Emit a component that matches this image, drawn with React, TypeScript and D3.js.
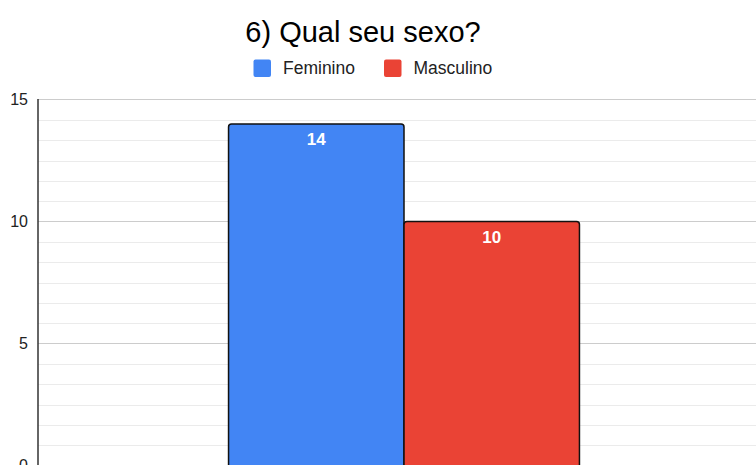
import React from "react";
import * as d3 from "d3";

const title = "6) Qual seu sexo?";
const categories = [""];
const seriesNames = ["Feminino", "Masculino"];
const seriesColors = ["#4285F4", "#EA4335"];
const values = [14, 10];
const yTicks = [0, 5, 10, 15];

const W = 756;
const H = 465;

function roundedTop(x: number, y: number, w: number, h: number, r: number) {
  return `M${x},${y + h} L${x},${y + r} Q${x},${y} ${x + r},${y} L${x + w - r},${y} Q${x + w},${y} ${x + w},${y + r} L${x + w},${y + h} Z`;
}

export default function App() {
  const y = d3.scaleLinear().domain([0, 15]).range([465.5, 99.5]);
  const x0 = d3.scaleBand<string>().domain(categories).range([38, 770]).paddingInner(0).paddingOuter(0.543);
  const x1 = d3.scaleBand<string>().domain(seriesNames).range([0, x0.bandwidth()]).padding(0);
  const minor: number[] = [];
  for (let i = 0; i <= 18; i++) {
    const v = (i * 5) / 6;
    if (i % 6 !== 0) minor.push(v);
  }
  const font = "'Liberation Sans', Arial, sans-serif";
  return (
    <svg width={W} height={H} style={{ position: "absolute", left: 0, top: 0, background: "#fff" }}>
      <rect x={0} y={0} width={W} height={H} fill="#fff" />
      <text x={363} y={41.5} textAnchor="middle" fontFamily={font} fontSize={29} fill="#000">{title}</text>
      {seriesNames.map((s, i) => {
        const lx = i === 0 ? 253.5 : 384;
        return (
          <g key={s}>
            <rect x={lx} y={59.5} width={17.5} height={17.5} rx={2} fill={seriesColors[i]} />
            <text x={lx + 29.5} y={74.3} fontFamily={font} fontSize={17.5} fill="#222">{s}</text>
          </g>
        );
      })}
      {minor.map((v) => (
        <line key={"m" + v} x1={38} x2={W} y1={Math.round(y(v)) + 0.5} y2={Math.round(y(v)) + 0.5} stroke="#ebebeb" strokeWidth={1} />
      ))}
      {yTicks.map((v) => (
        <g key={"t" + v}>
          <line x1={38} x2={W} y1={y(v)} y2={y(v)} stroke="#cccccc" strokeWidth={1} />
          <text x={28} y={y(v)} dy="0.35em" textAnchor="end" fontFamily={font} fontSize={16} fill="#222">{v}</text>
        </g>
      ))}
      {categories.map((c) =>
        seriesNames.map((s, i) => {
          const bx = (x0(c) ?? 0) + (x1(s) ?? 0);
          const bw = x1.bandwidth();
          const by = y(values[i]);
          return (
            <g key={c + s}>
              <path d={roundedTop(bx, by, bw, y(0) - by + 5, 3)} fill={seriesColors[i]} stroke="#111" strokeWidth={1.5} />
              <text x={bx + bw / 2} y={by + 21} textAnchor="middle" fontFamily={font} fontWeight="bold" fontSize={17} fill="#fff">{values[i]}</text>
            </g>
          );
        })
      )}
      <line x1={38} x2={38} y1={99} y2={H} stroke="#333" strokeWidth={1.5} />
    </svg>
  );
}
